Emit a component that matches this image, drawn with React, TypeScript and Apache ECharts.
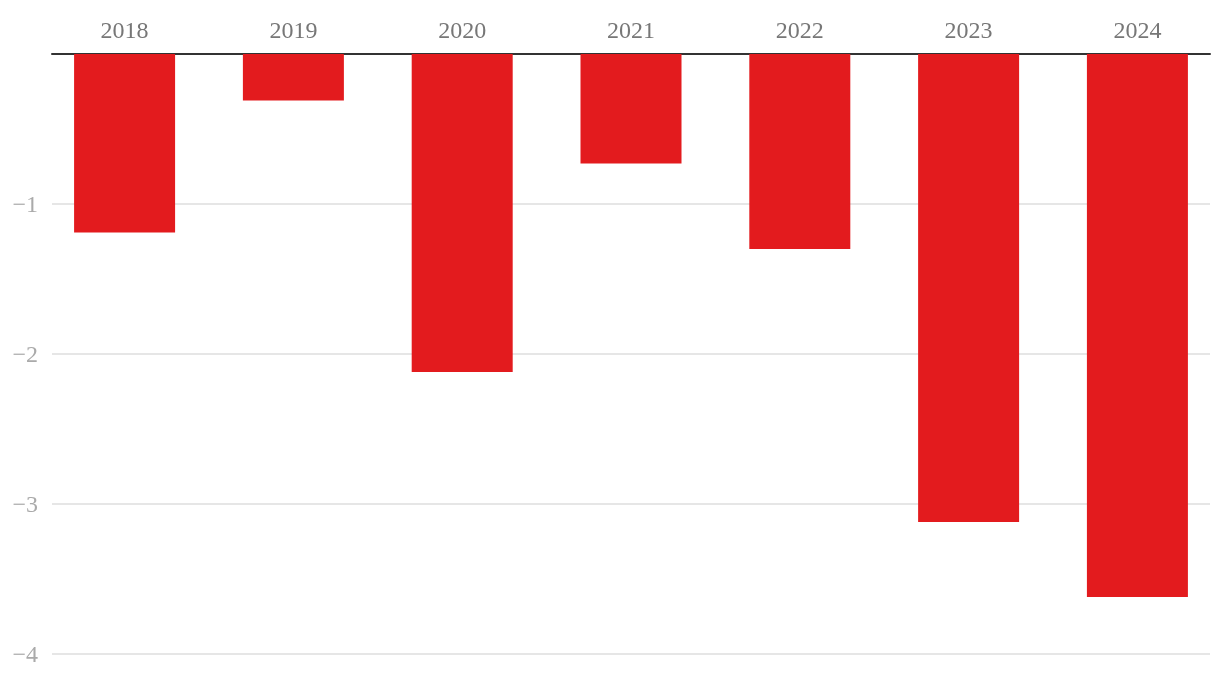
import React, { useEffect, useRef } from "react";
import * as echarts from "echarts";

const years = ["2018", "2019", "2020", "2021", "2022", "2023", "2024"];
const values = [-1.19, -0.31, -2.12, -0.73, -1.3, -3.12, -3.62];
const yTicks = [-4, -3, -2, -1, 0];

export default function App() {
  const ref = useRef<HTMLDivElement>(null);
  useEffect(() => {
    if (!ref.current) return;
    const chart = echarts.init(ref.current, null, { renderer: "svg" });
    const font = "'Liberation Serif', serif";
    chart.setOption({
      animation: false,
      grid: { left: 52, right: 10, top: 54, bottom: 32, containLabel: false },
      xAxis: {
        type: "value",
        position: "top",
        min: -0.43,
        max: 6.43,
        axisLine: { show: true, onZero: false, lineStyle: { color: "#333", width: 2 } },
        axisTick: { show: false },
        splitLine: { show: false },
        axisLabel: {
          customValues: years.map((_, i) => i),
          formatter: (v: number) => years[Math.round(v)] ?? "",
          color: "#777",
          fontFamily: font,
          fontSize: 24,
          margin: 12,
        },
      },
      yAxis: {
        type: "value",
        min: yTicks[0],
        max: yTicks[yTicks.length - 1],
        interval: 1,
        axisLine: { show: false },
        axisTick: { show: false },
        splitLine: { lineStyle: { color: "#e6e6e6", width: 2 } },
        axisLabel: {
          formatter: (v: number) => (v === 0 ? "" : String(v).replace("-", "\u2212")),
          color: "#aaa",
          fontFamily: font,
          fontSize: 24,
          margin: 14,
        },
      },
      series: [
        {
          type: "bar",
          data: values.map((v, i) => [i, v]),
          barWidth: 101,
          itemStyle: { color: "#e31b1e" },
        },
      ],
    });
    return () => chart.dispose();
  }, []);
  return (
    <div
      ref={ref}
      style={{ position: "fixed", left: 0, top: 0, width: 1220, height: 686 }}
    />
  );
}
